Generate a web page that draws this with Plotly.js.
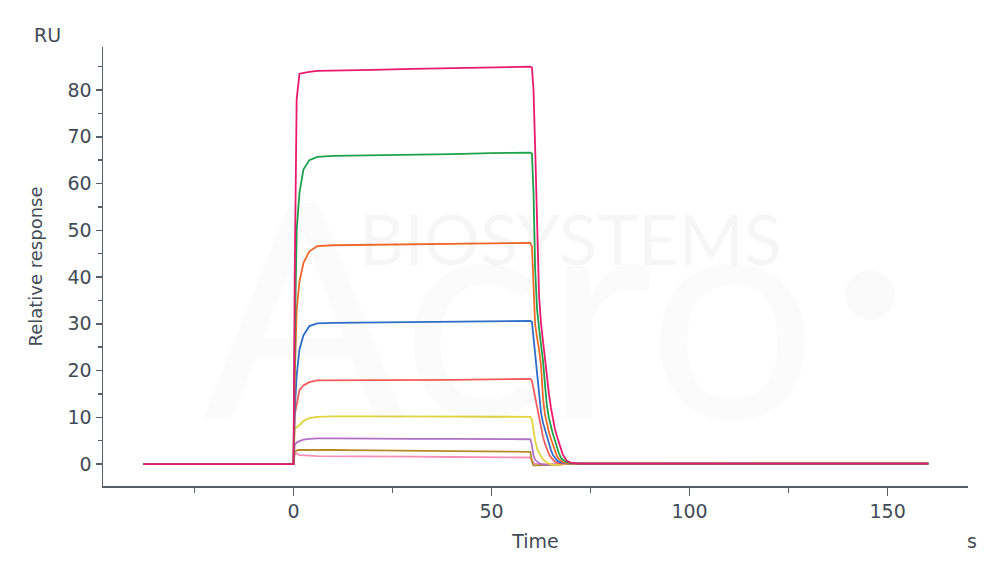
<!DOCTYPE html>
<html>
<head>
<meta charset="utf-8">
<script src="https://cdn.plot.ly/plotly-3.0.1.min.js"></script>
<style>
  html, body { margin: 0; padding: 0; background: #ffffff; }
  #chart { width: 1000px; height: 574px; }
</style>
</head>
<body>
<div id="chart"></div>
<script>
// Shared time grid (s)
const time = [-37.9, -20, -0.2, 0, 0.3, 0.8, 1.5, 2.5, 4, 6, 10, 20, 30, 40, 50, 59.8,
  60.2, 60.6, 61, 61.5, 62, 62.5, 63, 63.5, 64, 64.5, 65, 65.5, 66, 66.5, 67, 67.5, 68,
  69, 70, 72, 75, 80, 100, 130, 160.3];

// Response (RU) per concentration
const curveMagenta = [0, 0, 0, 0, 40, 78, 83.5, 83.7, 83.9, 84.1, 84.2, 84.3, 84.5, 84.7, 84.8, 85.0,
  84.8, 80, 68, 52, 36, 30, 26, 23, 19, 15, 12, 9.5, 7.5, 6.0, 4.8, 3.4, 2.0,
  0.7, 0.3, 0.1, 0.1, 0.1, 0.1, 0.1, 0.1];
const curveGreen = [0, 0, 0, 0, 25, 50, 58, 63, 65, 65.7, 65.9, 66.0, 66.2, 66.3, 66.5, 66.6,
  66.4, 58, 42, 33, 29, 25.5, 22, 17, 12.3, 9.8, 8, 6.4, 5.1, 3.6, 2.3, 1.4, 0.9,
  0.4, 0.2, 0.1, 0.1, 0.1, 0.1, 0.1, 0.1];
const curveOrange = [0, 0, 0, 0, 18, 33, 39, 43, 45.5, 46.6, 46.8, 46.9, 47.0, 47.1, 47.2, 47.3,
  46.5, 37.2, 30, 27, 24.5, 21, 14, 10.5, 8.5, 6.8, 5.4, 4.0, 2.8, 1.7, 1.1, 0.7, 0.4,
  0.2, 0.1, 0.1, 0.1, 0.1, 0.1, 0.1, 0.1];
const curveBlue = [0, 0, 0, 0, 11, 19, 24.5, 27.5, 29.5, 30.1, 30.2, 30.3, 30.4, 30.5, 30.5, 30.6,
  30.4, 27, 24, 19, 14, 11, 8.8, 7.2, 5.8, 4.4, 3.0, 1.9, 1.2, 0.8, 0.5, 0.35, 0.25,
  0.15, 0.1, 0.1, 0.1, 0.1, 0.1, 0.1, 0.1];
const curveSalmon = [0, 0, 0, 0, 10.5, 13, 15.8, 16.8, 17.5, 17.9, 17.9, 17.9, 18.0, 18.0, 18.1, 18.2,
  17.8, 16, 14, 12.3, 9.8, 7.6, 5.8, 4.3, 3.1, 2.1, 1.4, 0.9, 0.5, 0.3, 0.15, 0.1, 0.1,
  0.1, 0.1, 0.1, 0.1, 0.1, 0.1, 0.1, 0.1];
const curveYellow = [0, 0, 0, 0, 7.6, 7.9, 8.3, 9.2, 9.8, 10.1, 10.2, 10.2, 10.2, 10.2, 10.1, 10.1,
  9.5, 7, 5, 3.3, 2.3, 1.6, 1.0, 0.6, 0.3, 0.1, -0.1, -0.2, -0.2, -0.2, -0.15, -0.1, 0,
  0.05, 0.1, 0.1, 0.1, 0.1, 0.1, 0.1, 0.1];
const curvePurple = [0, 0, 0, 0, 4.0, 4.6, 4.9, 5.2, 5.4, 5.5, 5.5, 5.4, 5.4, 5.4, 5.3, 5.3,
  4.0, 1.8, 0.9, 0.5, 0.2, 0, -0.1, -0.2, -0.2, -0.2, -0.2, -0.2, -0.2, -0.15, -0.1, -0.05, 0,
  0.05, 0.1, 0.1, 0.1, 0.1, 0.1, 0.1, 0.1];
const curveBrown = [0, 0, 0, 0, 2.6, 2.9, 3.0, 3.0, 3.1, 3.1, 3.0, 2.9, 2.8, 2.7, 2.7, 2.6,
  0.5, -0.3, -0.3, -0.3, -0.3, -0.3, -0.3, -0.3, -0.3, -0.3, -0.25, -0.25, -0.2, -0.15, -0.1, -0.05, 0,
  0.05, 0.1, 0.1, 0.1, 0.1, 0.1, 0.1, 0.1];
const curvePink = [0, 0, 0, 0, 2.2, 2.3, 1.9, 1.8, 1.8, 1.7, 1.7, 1.6, 1.6, 1.5, 1.5, 1.4,
  0.8, 0.3, 0.1, 0, 0, 0, 0, 0, 0, 0, 0, 0, 0, 0, 0, 0, 0,
  0.05, 0.1, 0.1, 0.1, 0.1, 0.1, 0.1, 0.1];

// Drawing order: lowest first, top curve last
const series = [
  {y: curvePink,    color: '#f58fba'},
  {y: curveBrown,   color: '#b48a2c'},
  {y: curvePurple,  color: '#b170c4'},
  {y: curveYellow,  color: '#e2d43e'},
  {y: curveSalmon,  color: '#f55b5b'},
  {y: curveBlue,    color: '#2f6ec8'},
  {y: curveOrange,  color: '#f0692a'},
  {y: curveGreen,   color: '#1ba24b'},
  {y: curveMagenta, color: '#e8196f'}
];

const traces = series.map(s => ({
  x: time, y: s.y, type: 'scatter', mode: 'lines',
  line: {color: s.color, width: 1.8},
  hoverinfo: 'skip', showlegend: false
}));

const axisColor = '#56606b';
const textColor = '#414b56';
const fontFam = '"DejaVu Sans", sans-serif';
const wmFont = 'Lato, sans-serif';

const layout = {
  width: 1000, height: 574,
  margin: {l: 103, r: 32, t: 47, b: 88},
  paper_bgcolor: '#ffffff', plot_bgcolor: '#ffffff',
  showlegend: false,
  font: {family: fontFam, color: textColor, size: 19},
  xaxis: {
    range: [-48.1, 170.3], showgrid: false, zeroline: false,
    showline: true, linecolor: axisColor, linewidth: 1.5,
    ticks: 'outside', ticklen: 8, tickwidth: 1.5, tickcolor: axisColor,
    tick0: 0, dtick: 50,
    minor: {tick0: 0, dtick: 25, ticks: 'outside', ticklen: 5, tickwidth: 1.5, tickcolor: axisColor, showgrid: false},
    tickfont: {family: fontFam, size: 19, color: textColor},
    title: {text: 'Time', standoff: 13, font: {family: fontFam, size: 19, color: textColor}}
  },
  yaxis: {
    range: [-4.7, 89.2], showgrid: false, zeroline: false,
    showline: true, linecolor: axisColor, linewidth: 1.5,
    ticks: 'outside', ticklen: 6, tickwidth: 1.5, tickcolor: axisColor,
    tick0: 0, dtick: 10,
    minor: {tick0: 0, dtick: 5, ticks: 'outside', ticklen: 4, tickwidth: 1.5, tickcolor: axisColor, showgrid: false},
    tickfont: {family: fontFam, size: 19, color: textColor},
    title: {text: 'Relative response', standoff: 20, font: {family: fontFam, size: 18, color: textColor}}
  },
  shapes: [
    {type: 'circle', xref: 'paper', yref: 'paper', layer: 'below',
     x0: 0.858, x1: 0.9156, y0: 0.378, y1: 0.492,
     fillcolor: 'rgba(0,0,0,0.02)', line: {width: 0}}
  ],
  annotations: [
    {text: 'Acro', xref: 'paper', yref: 'paper', x: 0.47, y: 0.005, xanchor: 'center', yanchor: 'bottom',
     showarrow: false, font: {family: wmFont, size: 300, color: 'rgba(0,0,0,0.016)'}},
    {text: 'BIOSYSTEMS', xref: 'paper', yref: 'paper', x: 0.54, y: 0.565, xanchor: 'center', yanchor: 'middle',
     showarrow: false, font: {family: wmFont, size: 70, color: 'rgba(0,0,0,0.035)'}},
    {text: 'RU', xref: 'paper', yref: 'paper', x: -0.0636, y: 1.027, xanchor: 'center', yanchor: 'middle',
     showarrow: false, font: {family: fontFam, size: 19, color: textColor}},
    {text: 's', xref: 'paper', yref: 'paper', x: 1.0046, y: -0.125, xanchor: 'center', yanchor: 'middle',
     showarrow: false, font: {family: fontFam, size: 19, color: textColor}}
  ]
};

Plotly.newPlot('chart', traces, layout, {displayModeBar: false, staticPlot: true});
</script>
</body>
</html>
